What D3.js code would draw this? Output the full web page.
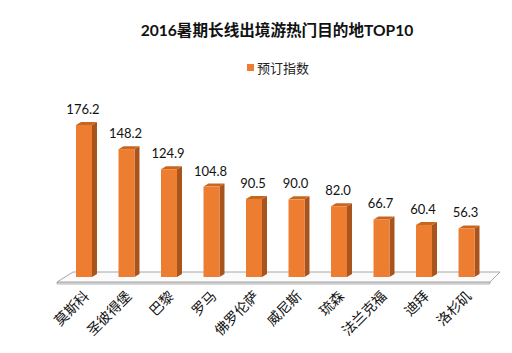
<!DOCTYPE html>
<html>
<head>
<meta charset="utf-8">
<script src="https://cdn.jsdelivr.net/npm/d3@7"></script>
<style>
  body { margin: 0; background: #fff; }
  svg { display: block; }
</style>
</head>
<body>
<div class="canvas"></div>
<script>
const width = 512
const height = 353

// data
const cities = ['莫斯科', '圣彼得堡', '巴黎', '罗马', '佛罗伦萨', '威尼斯', '琉森', '法兰克福', '迪拜', '洛杉矶']
const bookingIndex = [176.2, 148.2, 124.9, 104.8, 90.5, 90.0, 82.0, 66.7, 60.4, 56.3]
const seriesName = '预订指数'
const titleText = '2016暑期长线出境游热门目的地TOP10'

// style
const frontColor = '#ED7D31'
const sideColor = '#A9541C'
const topColor = '#C8661F'
const textFont = 'Lato, "Noto Sans CJK SC", sans-serif'
const depthX = 5
const depthY = 3

const svg = d3.select('.canvas')
  .append('svg')
  .attr('width', width)
  .attr('height', height)
  .attr('viewBox', `0 0 ${width} ${height}`)

const data = cities.map((c, i) => ({ name: c, value: bookingIndex[i] }))

const x = d3.scaleBand()
  .domain(cities)
  .range([76, 474.5])
  .paddingInner(0.624)
  .paddingOuter(0)

const y = d3.scaleLinear()
  .domain([0, 176.2])
  .range([277, 125])

// title
svg.append('text')
  .attr('x', 277)
  .attr('y', 36)
  .attr('text-anchor', 'middle')
  .attr('font-family', textFont)
  .attr('font-weight', 'bold')
  .attr('font-size', 15.6)
  .attr('fill', '#111')
  .text(titleText)

// legend
svg.append('rect')
  .attr('x', 247)
  .attr('y', 64)
  .attr('width', 7)
  .attr('height', 7)
  .attr('fill', frontColor)

svg.append('text')
  .attr('x', 257)
  .attr('y', 72.5)
  .attr('font-family', textFont)
  .attr('font-size', 13)
  .attr('fill', '#222')
  .text(seriesName)

// floor
const floorFront = 282
const floorBack = 272
const floorL = 57
const floorR = 490
const floor = svg.append('g')

floor.append('path')
  .attr('d', `M${floorL},${floorFront + 2} L${floorR},${floorFront + 2} L${floorR},${floorFront} L${floorL},${floorFront} Z`)
  .attr('fill', '#e9e9e9')
  .attr('stroke', '#a6a6a6')
  .attr('stroke-width', 0.8)

floor.append('path')
  .attr('d', `M${floorL},${floorFront} L${floorL + 16},${floorBack} L${floorR + 10},${floorBack} L${floorR},${floorFront} Z`)
  .attr('fill', '#fbfbfb')
  .attr('stroke', '#a6a6a6')
  .attr('stroke-width', 1)

// bars
const bars = svg.append('g')
  .selectAll('g')
  .data(data)
  .enter()
  .append('g')

const bw = x.bandwidth()

bars.append('path')
  .attr('d', d => {
    const x0 = x(d.name) + bw
    const yt = y(d.value)
    const yb = y(0)
    return `M${x0},${yt} L${x0 + depthX},${yt - depthY} L${x0 + depthX},${yb - depthY} L${x0},${yb} Z`
  })
  .attr('fill', sideColor)

bars.append('path')
  .attr('d', d => {
    const x0 = x(d.name)
    const yt = y(d.value)
    return `M${x0},${yt} L${x0 + depthX},${yt - depthY} L${x0 + bw + depthX},${yt - depthY} L${x0 + bw},${yt} Z`
  })
  .attr('fill', topColor)

bars.append('rect')
  .attr('x', d => x(d.name))
  .attr('y', d => y(d.value))
  .attr('width', bw)
  .attr('height', d => y(0) - y(d.value))
  .attr('fill', frontColor)

// value labels
bars.append('text')
  .attr('x', d => x(d.name) + bw / 2 - 1)
  .attr('y', d => y(d.value) - 11)
  .attr('text-anchor', 'middle')
  .attr('font-family', textFont)
  .attr('font-size', 13)
  .attr('fill', '#111')
  .text(d => d.value.toFixed(1))

// category labels
bars.append('text')
  .attr('transform', d => `translate(${x(d.name) + bw / 2 + 6}, ${297}) rotate(-45)`)
  .attr('text-anchor', 'end')
  .attr('font-family', textFont)
  .attr('font-size', 14)
  .attr('fill', '#111')
  .text(d => d.name)
</script>
</body>
</html>
